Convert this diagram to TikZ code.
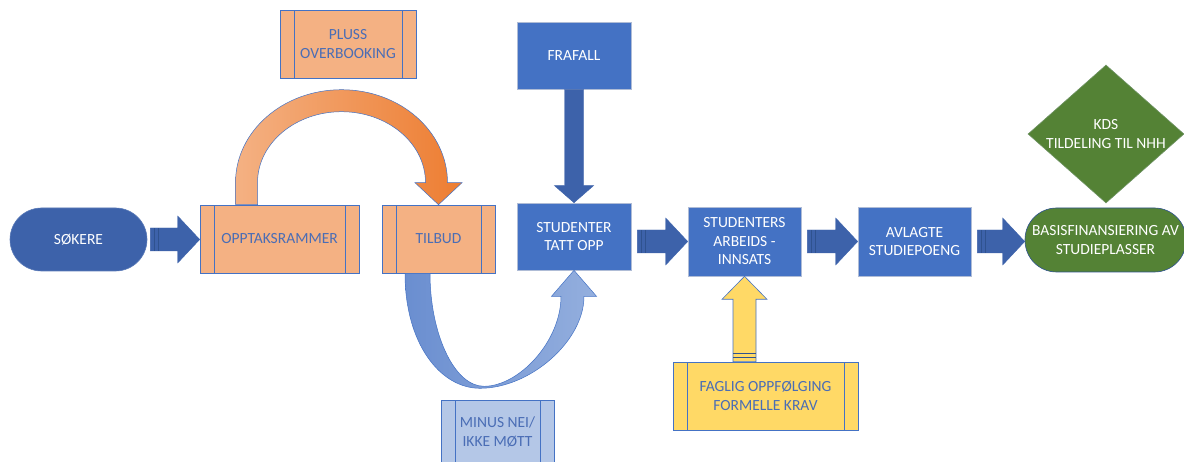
\documentclass[tikz,border=0pt]{standalone}
\usepackage{fontspec}
\setmainfont{Carlito}
\usetikzlibrary{calc,shapes.geometric}
\definecolor{boxblue}{HTML}{4472C4}
\definecolor{boxedge}{HTML}{AFBCD6}
\definecolor{darkblue}{HTML}{3D62AA}
\definecolor{stripeblue}{HTML}{2F528F}
\definecolor{txtblue}{HTML}{4A6DB5}
\definecolor{orangefill}{HTML}{F4B183}
\definecolor{orangedark}{HTML}{ED7D31}
\definecolor{yellowfill}{HTML}{FFD966}
\definecolor{lightblue}{HTML}{B4C7E7}
\definecolor{greenfill}{HTML}{548235}
\definecolor{curveleft}{HTML}{6A8ED0}
\definecolor{curveright}{HTML}{94AFDE}
% block arrow pointing right, from a tail coordinate to a node anchor
\newcommand{\rarrow}[2]{%
  \filldraw[arrowblue] let \p1=(#1), \p2=(#2) in
    (\x1,\y1+11.5pt) -- (\x2-22pt,\y1+11.5pt) -- (\x2-22pt,\y1+23.5pt) -- (\x2,\y1)
    -- (\x2-22pt,\y1-23.5pt) -- (\x2-22pt,\y1-11.5pt) -- (\x1,\y1-11.5pt) -- cycle;
  \draw[stripe] let \p1=(#1) in (\x1+4pt,\y1-11.5pt) -- (\x1+4pt,\y1+11.5pt)
    (\x1+8pt,\y1-11.5pt) -- (\x1+8pt,\y1+11.5pt);}
\begin{document}
\begin{tikzpicture}[x=1pt,y=-1pt]
  \tikzstyle{txt}=[align=center, font=\fontsize{15.5}{18.5}\selectfont]
  \tikzstyle{box}=[txt, rectangle, minimum width=113pt, minimum height=68pt, inner sep=2pt]
  \tikzstyle{plain}=[box, fill=boxblue, draw=boxedge, line width=0.6pt, text=white]
  \tikzstyle{proc}=[box, draw=boxblue, line width=0.6pt, text=txtblue,
    path picture={\draw[boxblue, line width=0.6pt]
      ([xshift=14pt]path picture bounding box.south west) -- ([xshift=14pt]path picture bounding box.north west)
      ([xshift=-14pt]path picture bounding box.south east) -- ([xshift=-14pt]path picture bounding box.north east);}]
  \tikzstyle{pill}=[txt, rectangle, rounded corners=31.5pt, inner sep=0pt, text=white, line width=0.6pt]
  \tikzstyle{arrowblue}=[fill=darkblue, draw=darkblue, line width=0.4pt]
  \tikzstyle{stripe}=[stripeblue, line width=0.6pt]
  \useasboundingbox (0,0) rectangle (1184,462);
  \clip (0,0) rectangle (1184,462);

  \node[pill, fill=darkblue, draw=darkblue!85!white, minimum width=137pt, minimum height=63pt] (sok) at (78.5,239.5) {SØKERE};
  \node[proc, fill=orangefill, minimum width=159pt] (opptak) at (279.5,239) {OPPTAKSRAMMER};
  \node[proc, fill=orangefill] (tilbud) at (438.5,239) {TILBUD};
  \node[proc, fill=orangefill, minimum width=136pt] (pluss) at (348,44) {PLUSS\\OVERBOOKING};
  \node[plain, minimum width=114pt, minimum height=67pt] (frafall) at (574,55.5) {FRAFALL};
  \node[plain, minimum width=114pt, minimum height=67pt] (tatt) at (574,236.5) {STUDENTER\\TATT OPP};
  \node[plain, minimum height=69pt] (innsats) at (744.5,241.5) {STUDENTERS\\ARBEIDS -\\INNSATS};
  \node[plain, minimum height=69pt] (poeng) at (914.5,241.5) {AVLAGTE\\STUDIEPOENG};
  \node[pill, fill=greenfill, draw=stripeblue, minimum width=161pt, minimum height=64pt] (basis) at (1105.5,240) {BASISFINANSIERING AV\\STUDIEPLASSER};
  \node[diamond, fill=greenfill, draw=greenfill!70!boxedge, line width=0.6pt, minimum width=156pt, minimum height=138pt, inner sep=0pt,
    label={[txt, text=white]center:KDS\\TILDELING TIL NHH}] (kds) at (1106,134) {};
  \node[proc, fill=lightblue, minimum height=64pt] (minus) at (497.5,432) {MINUS NEI/\\IKKE MØTT};
  \node[proc, fill=yellowfill, minimum width=185pt] (faglig) at (765.5,396) {FAGLIG OPPFØLGING\\FORMELLE KRAV};

  % straight block arrows
  \coordinate (t1) at ($(sok.east)+(3,0)$);
  \coordinate (t2) at ($(tatt.east |- innsats.west)+(6,0)$);
  \coordinate (t3) at ($(innsats.east)+(6,0)$);
  \coordinate (t4) at ($(poeng.east)+(6,0)$);
  \rarrow{t1}{opptak.west}
  \rarrow{t2}{innsats.west}
  \rarrow{t3}{poeng.west}
  \rarrow{t4}{basis.west}
  \filldraw[arrowblue] let \p1=(frafall.south), \p2=(tatt.north) in
    (\x1-9.5pt,\y1) -- (\x1-9.5pt,\y2+17pt) -- (\x1-19.5pt,\y2+17pt) -- (\p2)
    -- (\x1+19.5pt,\y2+17pt) -- (\x1+9.5pt,\y2+17pt) -- (\x1+9.5pt,\y1) -- cycle;
  \filldraw[fill=yellowfill, draw=boxblue, line width=0.6pt] let \p1=(faglig.north -| innsats.south), \p2=(innsats.south) in
    (\x1-11.5pt,\y1) -- (\x1-11.5pt,\y2-23pt) -- (\x1-22.5pt,\y2-23pt) -- (\p2)
    -- (\x1+22.5pt,\y2-23pt) -- (\x1+11.5pt,\y2-23pt) -- (\x1+11.5pt,\y1) -- cycle;
  \draw[stripe] let \p1=(faglig.north -| innsats.south) in
    (\x1-11.5pt,\y1+4.5pt) -- (\x1+11.5pt,\y1+4.5pt) (\x1-11.5pt,\y1+8.5pt) -- (\x1+11.5pt,\y1+8.5pt);

  % curved arrows
  \shadedraw[left color=orangefill, right color=orangedark, draw=boxblue, line width=0.5pt]
    ([xshift=-44pt]opptak.north) -- ++(0,-22) arc[start angle=180, end angle=0, x radius=106pt, y radius=93pt]
    -- ++(14.5,0) -- (tilbud.north) -- ++(-23.5,-22) -- ++(10.5,0)
    arc[start angle=0, end angle=180, x radius=84pt, y radius=71pt] -- ++(0,22) -- cycle;
  \shadedraw[left color=curveleft, right color=curveright, draw=boxblue, line width=0.5pt]
    ([xshift=-33.5pt]tilbud.south) .. controls +(0,70) and +(-40,0) .. ++(75,115)
    .. controls +(50,0) and +(0,45) .. ++(104,-92) -- ++(12.5,0) -- (tatt.south)
    -- ++(-22.5,26) -- ++(9.5,0) .. controls +(0,45) and +(35,0) .. ++(-77,90)
    .. controls +(-30,0) and +(0,60) .. ++(-54,-113) -- cycle;
\end{tikzpicture}
\end{document}
